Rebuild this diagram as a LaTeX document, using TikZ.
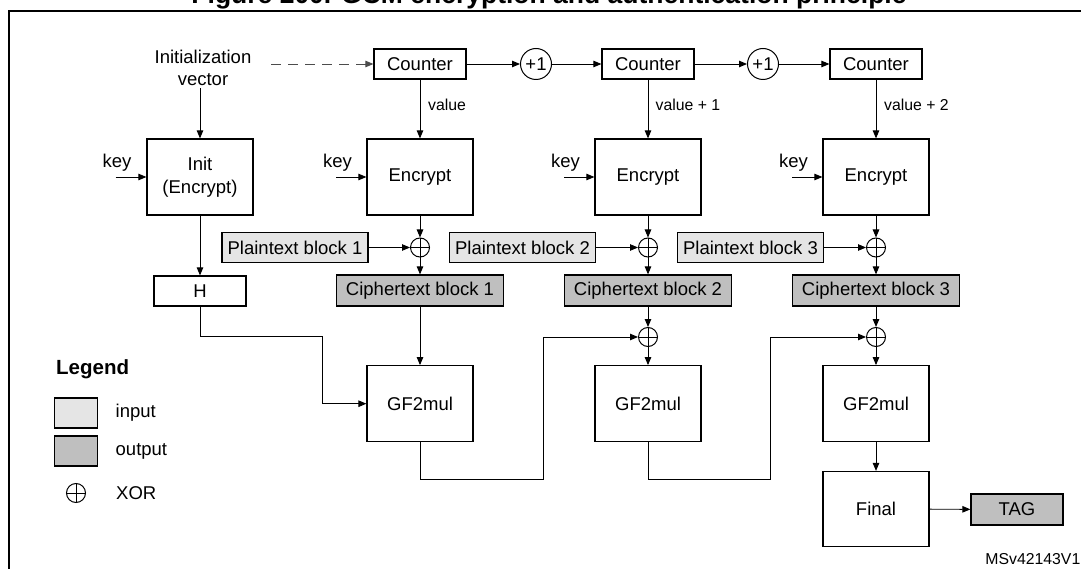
\documentclass[tikz,border=0pt]{standalone}
\usepackage{fontspec}
\setmainfont{Liberation Sans}
\usetikzlibrary{arrows.meta}

\newcommand{\mainsz}{\fontsize{18.5}{23}\selectfont}
\newcommand{\valsz}{\fontsize{15.8}{19}\selectfont}

\tikzset{
  box/.style={draw,line width=1.2pt,inner sep=0pt,align=center,font=\mainsz},
  encbox/.style={box,minimum width=106pt,minimum height=76pt},
  ctrbox/.style={box,minimum width=92pt,minimum height=30pt},
  inbox/.style={box,fill=gray!20,minimum width=146pt,minimum height=30pt},
  outbox/.style={box,fill=gray!50,minimum width=167pt,minimum height=31pt},
  xorop/.style={draw,circle,line width=1pt,minimum size=19pt,inner sep=0pt,
    path picture={\draw[line width=1pt] (path picture bounding box.north) -- (path picture bounding box.south)
                  (path picture bounding box.west) -- (path picture bounding box.east);}},
  incop/.style={draw,circle,line width=1pt,minimum size=31pt,inner sep=0pt,font=\mainsz},
  arr/.style={-{Triangle[length=8pt,width=6.5pt]},line width=0.9pt},
  txt/.style={inner sep=0pt,font=\mainsz},
}

\begin{document}
\begin{tikzpicture}[x=1pt,y=-1pt]
\useasboundingbox (0,0) rectangle (1081,569);
\clip (0,0) rectangle (1081,569);

%--------------------------------------------------- frame and title
\node[txt,font=\fontsize{26.5}{30}\selectfont\bfseries,anchor=base] (title) at (549,3.5) {Figure 200. GCM encryption and authentication principle};
\draw[line width=2pt] (1090,11) -- (9,11) -- (9,580);

%--------------------------------------------------- counters
\node[txt,align=center,inner sep=2pt,font=\fontsize{18.5}{22.6}\selectfont] (iv) at (203,68) {Initialization\\vector};
\coordinate (dash_s) at (271,64);
\node[ctrbox] (ctr_1) at (420,64) {Counter};
\node[incop]  (inc_1) at (536,64) {+1};
\node[ctrbox] (ctr_2) at (648,64) {Counter};
\node[incop]  (inc_2) at (763,64) {+1};
\node[ctrbox] (ctr_3) at (876,64) {Counter};

\draw[arr,black!70,dash pattern=on 10pt off 7pt] (dash_s) -- (ctr_1);
\draw[arr] (ctr_1) -- (inc_1);
\draw[arr] (inc_1) -- (ctr_2);
\draw[arr] (ctr_2) -- (inc_2);
\draw[arr] (inc_2) -- (ctr_3);

\node[txt,font=\valsz,anchor=west] (val_1) at (428,105) {value};
\node[txt,font=\valsz,anchor=west] (val_2) at (655.5,105) {value + 1};
\node[txt,font=\valsz,anchor=west] (val_3) at (884,105) {value + 2};

%--------------------------------------------------- encrypt blocks
\node[encbox] (init)  at (200,177) {Init\\(Encrypt)};
\node[encbox] (enc_1) at (420,177) {Encrypt};
\node[encbox] (enc_2) at (648,177) {Encrypt};
\node[encbox] (enc_3) at (876,177) {Encrypt};

\draw[arr] (iv.south -| init.north) -- (init);
\draw[arr] (ctr_1) -- (enc_1);
\draw[arr] (ctr_2) -- (enc_2);
\draw[arr] (ctr_3) -- (enc_3);

\node[txt] (key_0) at (117,163)   {key};
\node[txt] (key_1) at (337.5,163) {key};
\node[txt] (key_2) at (565.5,163) {key};
\node[txt] (key_3) at (793.5,163) {key};
\coordinate (k_0) at (115.5,177);
\coordinate (k_1) at (336,177);
\coordinate (k_2) at (564,177);
\coordinate (k_3) at (792,177);
\draw[arr] (k_0) -- (init.west);
\draw[arr] (k_1) -- (enc_1.west);
\draw[arr] (k_2) -- (enc_2.west);
\draw[arr] (k_3) -- (enc_3.west);

%--------------------------------------------------- plaintext / ciphertext
\node[inbox] (pt_1) at (295,247.5)   {Plaintext block 1};
\node[inbox] (pt_2) at (522.5,247.5) {Plaintext block 2};
\node[inbox] (pt_3) at (750.5,247.5) {Plaintext block 3};
\node[xorop] (xp_1) at (420,247.5) {};
\node[xorop] (xp_2) at (648,247.5) {};
\node[xorop] (xp_3) at (876,247.5) {};

\node[ctrbox] (h_box) at (200,291) {H};
\node[outbox] (ct_1) at (420,290.5) {Ciphertext block 1};
\node[outbox] (ct_2) at (648,290.5) {Ciphertext block 2};
\node[outbox] (ct_3) at (876,290.5) {Ciphertext block 3};

\draw[arr] (enc_1) -- (xp_1);
\draw[arr] (enc_2) -- (xp_2);
\draw[arr] (enc_3) -- (xp_3);
\draw[arr] (pt_1) -- (xp_1);
\draw[arr] (pt_2) -- (xp_2);
\draw[arr] (pt_3) -- (xp_3);
\draw[arr] (xp_1) -- (ct_1);
\draw[arr] (xp_2) -- (ct_2);
\draw[arr] (xp_3) -- (ct_3);
\draw[arr] (init) -- (h_box);

%--------------------------------------------------- GF2mul chain
\node[xorop] (xg_2) at (648,337) {};
\node[xorop] (xg_3) at (876,337) {};
\node[encbox] (gf_1) at (420,403.7) {GF2mul};
\node[encbox] (gf_2) at (648,403.7) {GF2mul};
\node[encbox] (gf_3) at (876,403.7) {GF2mul};
\node[encbox,minimum height=75pt] (final) at (876,509) {Final};
\node[ctrbox,fill=gray!50,minimum height=31pt] (tag) at (1017,509.5) {TAG};

\coordinate (h_bend) at (322,336);
\coordinate (gf_bend_1) at (543,479);
\coordinate (gf_bend_2) at (770,479);

\draw[arr] (h_box) |- (h_bend) |- (gf_1);
\draw[arr] (ct_1) -- (gf_1);
\draw[arr] (ct_2) -- (xg_2);
\draw[arr] (ct_3) -- (xg_3);
\draw[arr] (xg_2) -- (gf_2);
\draw[arr] (xg_3) -- (gf_3);
\draw[arr] (gf_1) |- (gf_bend_1) |- (xg_2);
\draw[arr] (gf_2) |- (gf_bend_2) |- (xg_3);
\draw[arr] (gf_3) -- (final);
\draw[arr] (final) -- (tag);

%--------------------------------------------------- legend
\node[txt,font=\fontsize{20.5}{24}\selectfont\bfseries,anchor=west] (legend) at (56,369) {Legend};
\node[box,fill=gray!20,minimum width=42.5pt,minimum height=30pt] (leg_in)  at (76,413) {};
\node[box,fill=gray!50,minimum width=42.5pt,minimum height=30pt] (leg_out) at (76,451) {};
\node[xorop] (leg_xor) at (76,493) {};
\node[txt,anchor=west] (leg_in_t)  at (115.5,413) {input};
\node[txt,anchor=west] (leg_out_t) at (115.5,451) {output};
\node[txt,anchor=west] (leg_xor_t) at (116,493)   {XOR};

\node[txt,font=\valsz,anchor=east] (doc_id) at (1080.5,559) {MSv42143V1};

\end{tikzpicture}
\end{document}
